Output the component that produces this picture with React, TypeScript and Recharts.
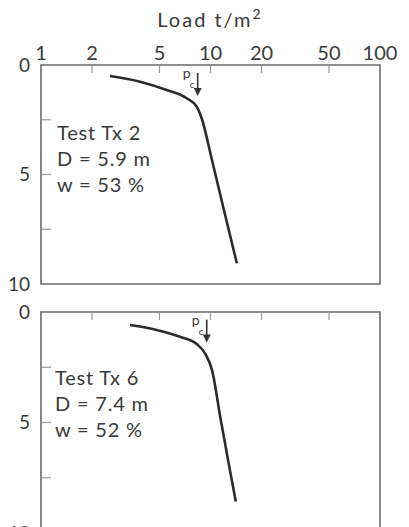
import React from "react";
import {
  LineChart,
  Line,
  XAxis,
  YAxis,
  ReferenceArea,
  ReferenceDot,
} from "recharts";

const LOAD_TICKS = [1, 2, 5, 10, 20, 50, 100];
const INNER_LOAD_TICKS = [2, 5, 10, 20, 50];
const DEPTH_TICKS = [0, 5, 10];
const INNER_DEPTH_TICKS = [2.5, 5, 7.5];

// Test Tx 2
const tx2Load = [2.55, 3.84, 5.51, 7.24, 8.29, 8.87, 10.2, 12.0, 14.3];
const tx2Depth = [0.5, 0.76, 1.14, 1.52, 1.9, 2.43, 4.34, 6.62, 9.05];
const tx2Pc = { load: 8.4, depth: 1.37 };
const tx2Notes = ["Test Tx 2", "D = 5.9 m", "w = 53 %"];

// Test Tx 6
const tx6Load = [3.35, 4.81, 6.61, 8.29, 9.28, 10.2, 11.5, 12.8, 14.1];
const tx6Depth = [0.59, 0.81, 1.12, 1.45, 1.87, 2.62, 4.89, 6.85, 8.58];
const tx6Pc = { load: 9.5, depth: 1.34 };
const tx6Notes = ["Test Tx 6", "D = 7.4 m", "w = 52 %"];

const FONT = "Lato, 'DejaVu Sans', sans-serif";
const TEXT = "#3a3a3a";
const GREY = "#6a6a6a";

const NoLabel = () => <g />;

function PcArrow(props: any) {
  const { cx, cy } = props;
  return (
    <g>
      <line x1={cx} y1={cy - 22} x2={cx} y2={cy - 6} stroke="#333" strokeWidth={1.6} />
      <polygon points={`${cx - 4},${cy - 7} ${cx + 4},${cy - 7} ${cx},${cy + 1}`} fill="#333" />
      <text x={cx - 15} y={cy - 17} fontSize={14} fill={TEXT} fontFamily={FONT}>p</text>
      <text x={cx - 8} y={cy - 7} fontSize={10} fill={TEXT} fontFamily={FONT}>c</text>
    </g>
  );
}

function Panel({
  load,
  depth,
  pc,
  showLabels,
  height,
  top,
  bottom,
}: {
  load: number[];
  depth: number[];
  pc: { load: number; depth: number };
  showLabels: boolean;
  height: number;
  top: number;
  bottom: number;
}) {
  const data = load.map((l, i) => ({ load: l, depth: depth[i] }));
  return (
    <LineChart
      width={409}
      height={height}
      data={data}
      margin={{ top, right: 29, bottom, left: 0 }}
    >
      <XAxis
        dataKey="load"
        type="number"
        scale="log"
        domain={[1, 100]}
        allowDataOverflow
        orientation="top"
        ticks={LOAD_TICKS}
        hide={!showLabels}
        height={showLabels ? 30 : 0}
        tickLine={false}
        axisLine={false}
        tickSize={0}
        tickMargin={5}
        tick={{ fontSize: 20, fill: TEXT, fontFamily: FONT }}
        interval={0}
      />
      <XAxis
        xAxisId="inner"
        dataKey="load"
        type="number"
        scale="log"
        domain={[1, 100]}
        allowDataOverflow
        orientation="top"
        mirror
        ticks={INNER_LOAD_TICKS}
        tick={NoLabel}
        axisLine={false}
        tickSize={8}
        tickLine={{ stroke: "#999", strokeWidth: 1.2 }}
        interval={0}
      />
      <YAxis
        dataKey="depth"
        type="number"
        domain={[0, 10]}
        reversed
        ticks={DEPTH_TICKS}
        width={41}
        tickLine={false}
        axisLine={false}
        tickSize={0}
        tickMargin={11}
        tick={{ fontSize: 19, fill: TEXT, fontFamily: FONT }}
        interval={0}
      />
      <YAxis
        yAxisId="inner"
        dataKey="depth"
        type="number"
        domain={[0, 10]}
        reversed
        mirror
        ticks={INNER_DEPTH_TICKS}
        tick={NoLabel}
        axisLine={false}
        tickSize={10}
        tickLine={{ stroke: "#999", strokeWidth: 1.2 }}
        interval={0}
      />
      <ReferenceArea
        x1={1}
        x2={100}
        y1={0}
        y2={10}
        fill="none"
        stroke={GREY}
        strokeWidth={1.6}
        ifOverflow="visible"
      />
      <Line
        dataKey="depth"
        type="monotone"
        stroke="#2b2b2b"
        strokeWidth={2.6}
        dot={false}
        isAnimationActive={false}
      />
      <ReferenceDot
        x={pc.load}
        y={pc.depth}
        ifOverflow="visible"
        shape={(p: any) => <PcArrow {...p} />}
      />
    </LineChart>
  );
}

function Notes({ lines, left, top }: { lines: string[]; left: number; top: number }) {
  return (
    <div
      style={{
        position: "absolute",
        left,
        top,
        fontFamily: FONT,
        fontSize: 20,
        letterSpacing: 0.8,
        color: TEXT,
        lineHeight: "26px",
        whiteSpace: "nowrap",
      }}
    >
      {lines.map((l) => (
        <div key={l}>{l}</div>
      ))}
    </div>
  );
}

export default function App() {
  return (
    <div
      style={{
        position: "fixed",
        left: 0,
        top: 0,
        width: 409,
        height: 527,
        overflow: "hidden",
        background: "#fff",
      }}
    >
      <div
        style={{
          position: "absolute",
          left: 0,
          width: 420,
          top: 5,
          textAlign: "center",
          fontFamily: FONT,
          fontSize: 20,
          color: TEXT,
          letterSpacing: 2,
          whiteSpace: "nowrap",
        }}
      >
        Load t/m<sup style={{ fontSize: 14 }}>2</sup>
      </div>
      <div style={{ position: "absolute", left: 0, top: 0 }}>
        <Panel load={tx2Load} depth={tx2Depth} pc={tx2Pc} showLabels height={300} top={35} bottom={16} />
      </div>
      <div style={{ position: "absolute", left: 0, top: 290 }}>
        <Panel load={tx6Load} depth={tx6Depth} pc={tx6Pc} showLabels={false} height={249} top={22} bottom={6} />
      </div>
      <Notes lines={tx2Notes} left={57} top={119} />
      <Notes lines={tx6Notes} left={55} top={364} />
    </div>
  );
}
